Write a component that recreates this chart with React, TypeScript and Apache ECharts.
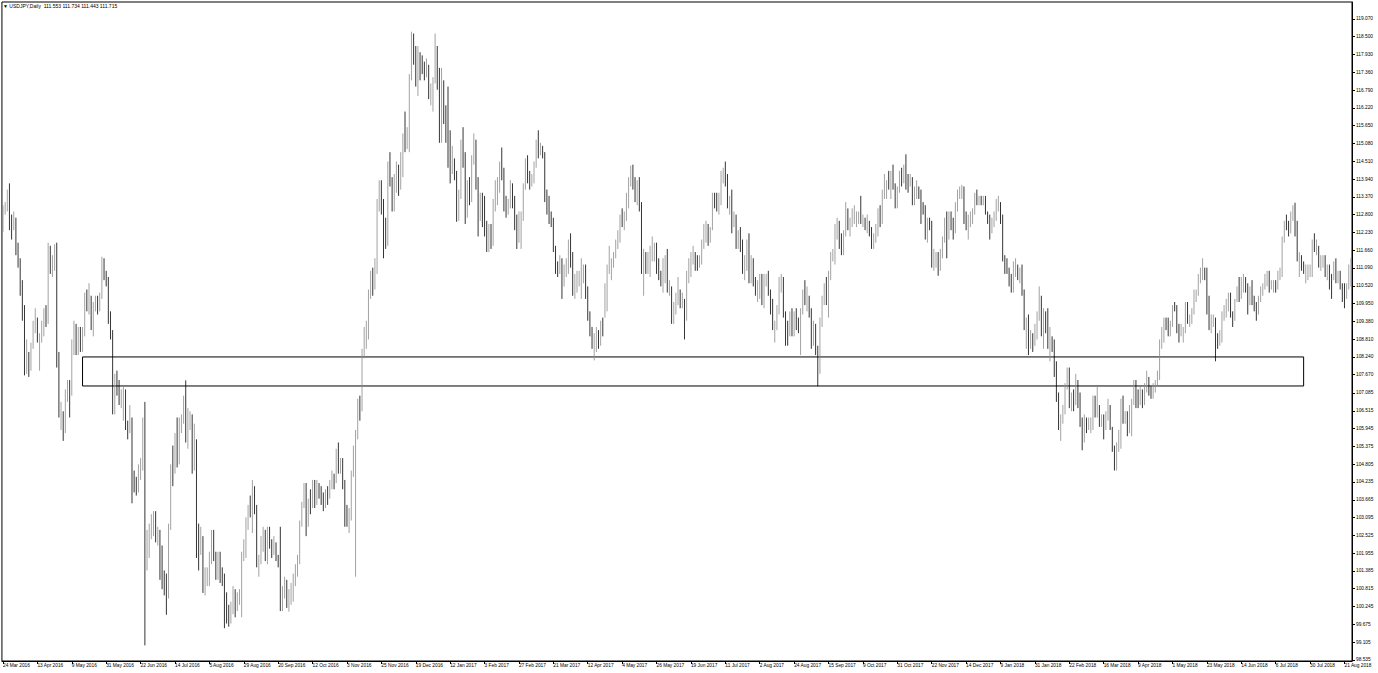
import React, { useEffect, useRef } from "react";
import * as echarts from "echarts";

// [open, close, low, high]
const bars2016: number[][] = [
  [112.40,112.99,112.25,113.10],[112.99,113.02,112.80,113.20],[113.02,113.40,112.90,113.60],[113.40,112.42,112.30,113.80],
  [112.42,112.40,112.00,112.80],[112.40,112.60,112.30,112.90],[112.60,111.70,111.50,112.70],[111.70,111.30,111.10,111.90],
  [111.30,110.30,110.20,111.40],[110.30,109.80,109.40,110.70],[109.80,108.10,107.65,109.90],[108.10,108.10,107.70,108.80],
  [108.10,107.90,107.60,108.40],[107.90,108.60,107.80,108.70],[108.60,109.30,108.50,109.40],[109.30,109.40,109.00,109.80],
  [109.40,108.80,108.70,109.50],[108.60,108.90,107.80,109.00],[108.90,109.20,108.70,109.40],[109.20,109.50,108.90,109.80],
  [109.50,109.40,109.20,109.90],[109.40,111.70,109.30,111.90],[111.70,111.10,110.90,111.80],[111.10,111.40,110.80,111.50],
  [111.40,111.40,111.00,111.85],[111.40,108.10,107.90,111.90],[108.10,106.40,106.30,108.40],[106.40,106.40,105.90,106.80],
  [106.40,106.10,105.55,106.50],[106.10,107.10,105.80,107.20],[107.10,107.20,106.80,107.50],[107.20,107.10,106.30,107.50],
  [107.10,108.60,107.00,108.80],[108.60,109.20,108.30,109.40],[109.20,108.50,108.30,109.30],[108.50,109.00,108.30,109.20],
  [109.00,108.60,108.40,109.20],[108.60,109.10,108.40,109.20],[109.10,110.20,108.90,110.30],[110.20,109.90,109.70,110.40],
  [109.90,110.10,109.60,110.60],[110.10,109.20,109.10,110.20],[109.20,109.90,108.90,110.00],[109.90,110.10,109.70,110.20],
  [110.10,109.80,109.60,110.20],[109.80,110.20,109.70,110.30],[110.20,111.30,110.10,111.45],[111.30,110.90,110.70,111.40],
  [110.90,110.70,110.50,111.00],[110.70,109.50,109.30,110.80],[109.50,109.00,108.80,109.70],[109.00,106.50,106.40,109.10],
  [106.50,107.50,106.40,107.70],[107.50,107.40,107.00,107.80],[107.40,106.90,106.70,107.50],[106.90,107.00,106.60,107.20],
  [107.00,107.00,106.20,107.30],[107.00,106.10,105.90,107.20],[106.10,106.00,105.60,106.20],[106.00,106.00,105.80,106.70],
  [106.00,104.20,103.55,106.30],[104.20,104.10,103.90,104.60],[104.10,104.00,103.80,104.40],[104.00,104.70,103.90,104.80],
  [104.70,104.70,104.30,105.00],[104.70,106.10,104.60,106.30],[106.10,102.30,99.00,106.80],[102.30,102.30,101.40,102.70],
  [102.30,102.70,101.80,102.90],[102.70,102.80,102.40,103.20],[102.80,103.20,102.50,103.30],[103.20,102.50,102.30,103.30],
  [102.50,102.60,102.20,102.80],[102.60,102.00,101.10,102.70],[102.00,101.30,100.80,102.20],[101.30,100.80,100.60,101.40],
  [100.80,100.60,99.98,101.30],[100.60,102.80,100.50,102.90],[102.80,104.70,102.70,104.80],[104.70,104.60,104.10,105.40],
  [104.60,105.30,104.50,105.80],[105.30,104.90,104.70,106.30],[104.90,106.20,104.80,106.30],[106.20,106.20,105.80,106.40],
  [106.20,106.90,106.10,107.00],[106.90,105.80,105.50,107.49],[105.80,106.10,105.30,106.60],[106.10,106.20,105.90,106.50],
  [106.20,104.80,104.50,106.40],[104.80,105.40,104.60,106.10],[105.40,102.10,101.80,105.60],[102.10,102.00,101.40,102.90],
  [102.00,102.40,101.90,102.80],[102.40,100.70,100.68,102.50],[100.70,101.20,100.60,101.50],[101.20,101.20,100.90,101.50],
  [101.20,101.80,100.90,102.00],[101.80,102.50,101.60,102.70],[102.50,101.90,101.70,102.70],[101.90,101.20,101.10,102.00],
  [101.20,101.90,101.10,102.00],[101.90,101.30,101.00,102.00],[101.30,101.20,100.90,101.50],[101.20,100.30,99.55,101.30],
  [100.30,100.20,99.70,100.70],[100.20,99.90,99.60,100.30],[99.90,100.20,99.70,100.40],[100.20,100.70,100.00,100.90],
  [100.70,100.30,99.90,100.80],[100.30,100.50,100.10,100.70],[100.50,100.50,100.30,100.80],[100.50,101.80,99.90,102.00],
  [101.80,101.90,101.70,102.40],[101.90,103.00,101.80,103.10],[103.00,103.40,102.70,103.50],[103.40,103.30,103.10,103.80],
  [103.30,104.00,102.60,104.30],[104.00,103.40,103.20,104.10],[103.40,101.70,101.50,103.50],[101.70,101.80,101.20,101.90],
  [101.80,102.40,101.60,102.50],[102.40,102.60,102.00,102.80],[102.60,101.80,101.70,102.70],[101.80,102.70,101.60,102.80],
  [102.70,102.30,102.10,102.80],[102.30,102.00,101.80,102.40],[102.00,102.30,101.90,102.50],[102.30,101.80,101.70,102.30],
  [101.80,101.70,101.50,101.90],[101.70,100.30,100.10,102.80],[100.30,100.70,100.10,100.90],[100.70,101.00,100.50,101.20],
  [101.00,100.40,100.20,101.10],[100.40,100.50,100.08,100.80],[100.50,100.70,100.30,101.00],[100.70,101.00,100.40,101.30],
  [101.00,101.30,100.90,101.60],[101.30,101.70,101.20,101.90],[101.70,102.90,101.60,103.00],[102.90,103.50,102.80,103.60],
  [103.50,103.90,103.40,104.20],[103.90,102.90,102.50,104.20],[102.90,103.60,102.80,103.70],[103.60,103.50,103.20,104.00],
  [103.50,104.20,103.40,104.30],[104.20,103.60,103.40,104.30],[103.60,104.20,103.50,104.30],[104.20,104.00,103.70,104.20],
  [104.00,103.80,103.50,104.10],[103.80,103.40,103.30,103.90],[103.40,103.90,103.40,104.00],[103.90,103.80,103.50,104.10],
  [103.80,104.20,103.70,104.30],[104.20,104.30,104.00,104.60],[104.30,104.20,104.00,104.50],[104.20,105.20,104.20,105.30],
  [105.20,104.70,104.50,105.50],[104.70,104.80,104.50,105.00],[104.80,104.20,104.00,105.00],[104.20,103.30,102.80,104.30],
  [103.30,103.10,102.80,103.50],[103.10,103.10,102.60,103.40],[103.10,104.50,103.00,104.60],[104.50,105.10,104.40,105.40],
  [105.10,105.70,101.20,105.90],[105.70,106.80,105.60,106.90],[106.80,106.60,106.20,107.00],[106.60,108.40,106.50,108.50],
  [108.40,109.10,108.20,109.20],[109.10,109.20,108.50,109.40],[109.20,110.30,108.80,110.40],[110.30,110.90,110.10,111.00],
  [110.90,110.80,110.20,111.10],[110.80,111.10,110.40,111.40],[111.10,113.20,110.90,113.30],[113.20,113.30,112.90,113.90],
  [113.30,113.20,112.80,113.90],[113.20,112.30,111.40,113.30],[112.30,111.90,111.70,112.70],[111.90,114.40,111.80,114.50],
  [114.40,114.00,113.70,114.80],[114.00,113.50,112.90,114.00],[113.50,113.90,112.90,114.10],[113.90,114.00,113.50,114.50],
  [114.00,113.70,113.40,114.40],[113.70,114.10,113.60,114.80],[114.10,115.30,114.00,115.40],[115.30,115.10,114.80,116.10],
  [115.10,115.40,114.90,115.60],[115.40,117.20,114.80,117.30],[117.20,118.10,117.10,118.66],[118.10,117.90,117.60,118.60],
  [117.90,117.00,116.90,118.20],[117.00,117.90,116.60,118.20],[117.90,117.60,117.10,118.00],[117.60,117.50,117.30,117.90],
  [117.50,117.30,117.10,117.70],[117.30,117.50,117.20,117.80],[117.50,116.60,116.50,117.60],[116.60,116.60,116.30,117.00],
  [116.60,116.90,116.10,117.20],
];

const bars2017: number[][] = [
  [117.20,117.80,117.00,118.60],[117.80,117.20,116.80,118.20],[117.20,115.40,115.10,117.50],[115.40,117.00,115.10,117.50],
  [117.00,115.90,115.70,117.10],[115.90,115.80,115.10,116.30],[115.80,115.40,114.30,116.90],[115.40,114.40,113.80,115.50],
  [114.40,114.50,114.10,115.00],[114.50,114.10,113.90,114.60],[114.10,112.70,112.57,114.20],[112.70,113.40,112.60,113.60],
  [113.40,115.10,113.30,115.20],[115.10,114.60,114.30,115.60],[114.60,112.80,112.50,114.80],[112.80,113.80,112.70,113.90],
  [113.80,113.30,113.10,114.00],[113.30,114.50,113.20,114.70],[114.50,115.10,114.40,115.40],[115.10,113.80,113.60,115.20],
  [113.80,112.80,112.10,114.00],[112.80,113.20,112.60,113.50],[113.20,112.80,112.40,113.50],[112.80,112.60,112.10,113.40],
  [112.60,111.80,111.60,112.60],[111.80,112.30,111.60,112.50],[112.30,111.90,111.70,112.50],[111.90,113.20,111.80,113.30],
  [113.20,113.20,112.90,113.90],[113.20,113.70,113.10,114.00],[113.70,114.30,113.50,114.50],[114.30,114.20,113.90,114.95],
  [114.20,113.20,112.90,114.30],[113.20,112.90,112.70,113.40],[112.90,113.10,112.80,113.30],[113.10,113.70,113.00,113.90],
  [113.70,113.30,113.00,113.80],[113.30,112.60,112.30,113.40],[112.60,112.10,111.70,112.80],[112.10,112.70,111.90,112.90],
  [112.70,112.70,111.70,112.90],[112.70,113.70,112.60,113.80],[113.70,114.40,113.60,114.60],[114.40,114.00,113.80,114.70],
  [114.00,113.90,113.60,114.20],[113.90,113.90,113.70,114.10],[113.90,114.40,113.80,114.50],[114.40,115.00,114.30,115.20],
  [115.00,114.80,114.60,115.50],[114.80,114.80,114.70,115.10],[114.80,114.70,114.60,115.00],[114.70,113.40,113.20,114.80],
  [113.40,113.30,112.80,113.60],[113.30,112.70,112.50,113.40],[112.70,112.50,112.40,112.90],[112.50,111.70,111.60,112.70],
  [111.70,111.20,110.90,111.80],[111.20,111.00,110.80,111.30],[111.00,111.30,110.90,111.50],[111.30,110.60,110.10,111.40],
  [110.60,111.00,110.50,111.20],[111.00,111.10,110.80,111.40],[111.10,111.80,110.90,112.00],[111.80,111.40,111.10,112.20],
  [111.40,110.30,110.20,111.60],[110.30,110.70,110.10,110.90],[110.70,110.70,110.30,111.00],[110.70,110.80,110.50,111.00],
  [110.80,110.80,110.10,111.40],[110.80,111.10,110.60,111.20],[111.10,110.40,110.10,111.20],[110.40,109.60,109.40,110.50],
  [109.60,109.10,108.90,109.70],[109.10,108.60,108.50,109.20],[108.60,108.90,108.13,109.00],[108.90,108.90,108.40,109.20],
  [108.90,108.80,108.50,109.10],[108.80,109.30,108.60,109.40],[109.30,109.10,108.90,109.50],[109.60,109.80,109.50,110.60],
  [109.80,111.10,109.70,111.20],[111.10,111.10,110.90,111.80],[111.10,111.30,110.70,111.40],[111.30,111.50,111.10,111.60],
  [111.50,111.90,111.40,112.00],[111.90,112.20,111.70,112.30],[112.20,112.80,111.90,112.80],[112.80,112.50,112.40,113.00],
  [112.50,112.70,112.30,112.90],[112.70,113.20,112.60,113.50],[113.20,113.90,113.00,114.00],[113.90,114.30,113.70,114.37],
  [114.30,113.90,113.60,114.40],[113.90,113.30,113.20,114.00],[113.30,113.80,113.10,113.90],[113.80,113.10,112.90,114.00],
  [113.10,111.10,110.90,113.20],[111.10,111.50,110.20,111.70],[111.50,111.30,110.90,111.60],[111.30,111.30,110.90,111.60],
  [111.30,111.60,110.80,111.80],[111.60,111.60,111.30,112.10],[111.60,111.80,111.30,111.90],[111.80,111.30,110.90,111.90],
  [111.30,110.90,110.70,111.40],[110.90,110.80,110.50,111.00],[110.80,110.80,110.30,111.40],[110.80,111.40,110.60,111.50],
  [111.40,110.40,110.30,111.70],[110.40,110.40,110.20,110.70],[110.40,109.50,109.30,110.50],[109.50,109.80,109.30,110.00],
  [109.80,110.00,109.60,110.30],[110.00,110.30,109.90,110.80],[110.30,110.00,109.80,110.40],[110.00,110.00,109.80,110.30],
  [110.00,109.60,108.80,110.10],[109.60,110.90,109.40,111.00],[110.90,110.90,110.60,111.40],[110.90,111.50,110.80,111.60],
  [111.50,111.50,111.20,111.80],[111.50,111.40,111.00,111.60],[111.40,111.30,111.00,111.50],[111.30,111.30,111.10,111.50],
  [111.30,111.90,111.20,112.00],[111.90,112.30,111.70,112.50],[112.30,112.30,111.90,112.60],[112.30,112.00,111.80,112.50],
  [112.00,112.40,111.90,112.40],[112.40,113.40,112.30,113.50],[113.40,113.30,113.00,113.50],[113.30,113.20,112.90,113.50],
  [113.20,113.20,112.80,113.50],[113.20,113.90,113.10,114.20],[113.90,114.00,113.80,114.30],[114.00,113.90,113.70,114.50],
  [113.90,113.20,113.00,114.10],[113.20,113.30,112.80,113.40],[113.30,112.50,112.20,113.60],[112.50,112.60,112.40,112.90],
  [112.60,112.00,111.70,112.80],[112.00,112.00,111.70,112.30],[112.00,111.90,111.60,112.40],[111.90,111.10,110.90,112.00],
  [111.10,111.10,110.70,111.50],[111.10,111.90,111.00,112.00],[111.90,110.90,110.60,112.20],[110.90,111.30,110.60,111.50],
  [111.30,110.70,110.50,111.40],[110.70,110.30,110.20,110.80],[110.30,110.30,110.00,110.70],[110.30,110.70,110.10,110.90],
  [110.70,110.00,109.90,110.90],[110.00,110.70,109.80,110.90],[110.70,110.70,110.50,110.90],[110.70,110.30,110.20,111.00],
  [110.30,110.00,109.60,110.40],[110.00,109.20,109.10,110.10],[109.20,109.20,108.70,109.40],[109.20,109.70,109.10,109.90],
  [109.70,110.70,109.60,110.80],[110.70,110.70,110.30,110.90],[110.70,109.60,109.50,110.80],[109.60,109.20,108.60,109.70],
  [109.20,109.00,108.60,109.40],[109.00,109.60,108.90,109.70],[109.60,109.00,108.90,109.80],[109.00,109.50,108.90,109.70],
  [109.50,109.30,109.10,109.80],[109.30,109.20,109.00,109.50],[109.20,109.70,108.30,109.80],[109.70,110.30,109.60,110.40],
  [110.30,110.00,109.90,110.70],[110.00,110.20,109.70,110.50],[110.20,109.70,109.50,110.20],[109.70,108.70,108.50,109.80],
  [108.70,109.20,108.60,109.40],[109.20,108.40,108.30,109.30],[108.40,107.80,107.30,108.60],[107.80,109.40,107.70,109.50],
  [109.40,110.10,109.20,110.20],[110.10,110.50,109.90,110.60],[110.50,110.20,109.90,110.80],[110.20,110.80,109.50,111.00],
  [110.80,111.50,110.70,111.60],[111.50,111.60,111.30,111.70],[111.60,112.30,111.20,112.50],[112.30,112.50,112.00,112.70],
  [112.50,112.00,111.70,112.60],[112.00,111.70,111.50,112.20],[111.70,112.20,111.50,112.30],[112.20,112.80,112.10,113.20],
  [112.80,112.30,112.30,113.00],[112.30,112.50,112.10,112.70],[112.50,112.70,112.40,113.00],[112.70,112.70,112.50,113.10],
  [112.70,112.80,112.40,112.90],[112.80,112.80,112.50,112.90],[112.80,112.60,112.50,113.40],[112.60,112.70,112.40,112.80],
  [112.70,112.50,112.30,112.70],[112.50,112.50,112.20,112.80],[112.50,112.30,112.10,112.60],[112.30,111.80,111.70,112.40],
  [111.80,112.20,111.70,112.20],[112.20,112.20,111.90,112.50],[112.20,112.90,112.10,113.00],[112.90,112.60,112.40,113.10],
  [112.60,113.50,112.50,113.60],[113.50,113.50,113.30,114.10],[113.50,113.90,113.30,113.90],[113.90,113.70,113.60,114.20],
  [113.70,114.10,113.30,114.20],[114.10,113.70,113.60,114.40],[113.70,113.20,113.00,113.80],[113.20,113.60,113.00,113.70],
  [113.60,114.10,113.50,114.20],[114.10,114.00,113.70,114.30],[114.00,114.10,113.80,114.40],[114.10,114.00,113.60,114.73],
  [114.00,113.90,113.50,114.10],[113.90,113.90,113.70,114.10],[113.90,113.50,113.10,114.00],[113.50,113.50,113.10,113.70],
  [113.50,113.60,113.30,113.90],[113.60,113.50,113.30,113.70],[113.50,113.10,112.50,113.60],[113.10,113.00,112.80,113.20],
  [113.00,112.10,112.00,113.10],[112.10,112.60,111.90,112.70],[112.60,112.50,112.30,112.70],[112.50,111.20,111.10,112.60],
  [111.20,111.20,111.00,111.70],[111.20,111.50,111.10,111.60],[111.50,111.10,110.84,111.60],[111.10,111.50,111.00,111.70],
  [111.50,112.00,111.40,112.10],[112.00,112.50,111.90,112.70],[112.50,112.10,111.40,112.90],[112.10,112.80,112.00,112.90],
  [112.80,112.60,112.30,112.90],[112.60,112.30,112.00,112.70],[112.30,113.00,112.20,113.20],[113.00,113.50,112.90,113.60],
  [113.50,113.60,113.30,113.70],[113.60,113.60,113.30,113.75],[113.60,112.60,112.50,113.70],[112.60,112.40,112.30,112.90],
  [112.40,112.60,112.00,112.80],[112.60,112.60,112.40,112.90],[112.60,112.90,112.50,113.00],[112.90,113.40,112.80,113.50],
  [113.40,113.30,113.10,113.60],[113.30,113.30,113.10,113.40],[113.30,113.20,113.10,113.40],[113.20,113.30,113.10,113.40],
  [113.30,112.90,112.80,113.40],[112.90,112.70,112.50,112.90],
];

const bars2018: number[][] = [
  [112.70,112.30,112.00,112.80],[112.30,112.50,112.20,112.70],[112.50,112.70,112.40,112.90],[112.70,113.00,112.60,113.30],
  [113.00,113.10,112.90,113.40],[113.10,112.60,112.50,113.20],[112.60,111.40,111.30,112.80],[111.40,111.20,110.90,111.50],
  [111.20,111.00,110.90,111.40],[111.00,110.60,110.50,111.10],[110.60,110.40,110.30,110.90],[110.40,111.00,110.30,111.30],
  [111.00,111.10,110.80,111.40],[111.10,110.80,110.70,111.20],[110.80,111.00,110.60,111.10],[111.00,110.30,110.20,111.20],
  [110.30,109.20,109.10,110.40],[109.20,109.40,108.50,109.50],[109.40,108.60,108.30,109.60],[108.60,108.90,108.50,109.10],
  [108.90,108.80,108.40,109.00],[108.80,109.20,108.60,109.30],[109.20,109.50,108.80,109.70],[109.50,110.20,109.40,110.50],
  [110.20,109.10,108.90,110.20],[109.10,109.50,108.50,109.80],[109.50,109.30,109.00,109.70],[109.30,108.80,108.50,109.80],
  [108.80,108.80,108.10,109.20],[108.80,108.70,108.40,108.90],[108.70,107.80,107.60,108.80],[107.80,107.00,106.80,108.10],
  [107.00,106.10,105.90,107.10],[106.10,106.30,105.55,106.40],[106.30,106.60,106.10,106.70],[106.60,107.30,106.40,107.40],
  [107.30,107.80,107.20,107.90],[107.80,106.70,106.60,107.90],[106.70,106.90,106.50,107.10],[106.90,106.80,106.50,107.20],
  [106.80,107.40,106.70,107.70],[107.40,106.70,106.60,107.50],[106.70,106.20,106.00,107.10],[106.20,105.70,105.25,106.30],
  [105.70,106.20,105.50,106.40],[106.20,106.10,105.80,106.30],[106.10,106.10,105.90,106.30],[106.10,106.20,105.80,106.30],
  [106.20,106.80,105.90,107.00],[106.80,106.40,106.30,107.00],[106.40,106.60,106.30,107.30],[106.60,106.30,106.00,106.70],
  [106.30,106.30,106.00,106.40],[106.30,106.00,105.60,106.40],[106.00,106.40,105.90,106.50],[106.40,106.60,106.20,106.90],
  [106.60,106.00,105.90,106.70],[106.00,105.30,105.20,106.00],[105.30,104.70,104.60,105.40],[104.70,105.40,104.60,105.50],
  [105.40,105.40,105.20,105.90],[105.40,106.80,105.30,106.90],[106.80,106.30,106.10,107.00],[106.30,106.30,106.10,106.50],
  [106.30,105.90,105.70,106.50],[105.90,106.60,105.80,106.70],[106.60,106.80,105.70,106.90],[106.80,107.40,106.70,107.50],
  [107.40,106.90,106.60,107.50],[106.90,106.80,106.60,107.20],[106.80,107.20,106.70,107.30],[107.20,106.80,106.60,107.20],
  [106.80,107.30,106.70,107.40],[107.30,107.40,107.10,107.80],[107.40,107.10,107.00,107.60],[107.10,107.00,106.90,107.30],
  [107.00,107.20,106.90,107.40],[107.20,107.40,107.10,107.50],[107.40,107.60,107.30,107.80],[107.60,108.70,107.50,108.80],
  [108.70,108.80,108.50,109.20],[108.80,109.40,108.70,109.50],[109.40,109.30,109.10,109.50],[109.30,109.00,108.90,109.50],
  [109.00,109.30,108.90,109.40],[109.30,109.90,109.20,109.90],[109.90,109.80,109.70,110.00],[109.80,109.20,109.00,109.90],
  [109.20,109.10,108.70,109.30],[109.10,109.10,108.90,109.30],[109.10,109.10,108.70,109.20],[109.10,109.70,109.00,110.00],
  [109.70,109.40,109.30,110.00],[109.40,109.40,109.20,109.60],[109.40,109.70,109.30,109.80],[109.70,110.30,109.60,110.40],
  [110.30,110.30,110.00,110.40],[110.30,110.80,110.20,110.90],[110.80,110.80,110.60,111.10],[110.80,111.00,110.70,111.40],
  [111.00,110.90,110.70,111.10],[110.90,110.10,109.60,111.10],[110.10,109.20,109.10,110.20],[109.20,109.40,109.00,109.60],
  [109.40,109.40,109.20,109.60],[109.40,108.80,108.10,109.50],[108.80,108.70,108.50,109.00],[108.70,108.80,108.60,109.10],
  [108.80,109.50,108.70,109.70],[109.50,109.80,109.40,109.90],[109.80,109.80,109.50,110.10],[109.80,110.20,109.70,110.30],
  [110.20,109.70,109.50,110.30],[109.70,109.50,109.20,109.70],[109.50,110.00,109.40,110.10],[110.00,110.40,110.00,110.50],
  [110.40,110.30,110.00,110.80],[110.30,110.60,110.10,110.80],[110.60,110.70,110.30,110.90],[110.70,110.50,110.30,110.80],
  [110.50,110.00,109.60,110.60],[110.00,110.30,109.90,110.50],[110.30,110.00,109.90,110.70],[110.00,109.90,109.70,110.20],
  [109.90,109.70,109.40,110.00],[109.70,110.10,109.60,110.20],[110.10,110.30,110.00,110.50],[110.30,110.50,110.20,110.60],
  [110.50,110.80,110.40,110.90],[110.80,110.90,110.50,111.00],[110.90,110.50,110.30,111.00],[110.50,110.50,110.40,110.70],
  [110.50,110.60,110.30,110.70],[110.60,110.50,110.30,110.70],[110.50,110.90,110.40,111.00],[110.90,111.00,110.70,111.10],
  [111.00,112.00,110.80,112.10],[112.00,112.50,111.90,112.60],[112.50,112.40,112.30,112.80],[112.40,112.30,112.10,112.60],
  [112.30,112.90,112.20,112.90],[112.90,112.90,112.60,113.10],[112.90,112.50,112.10,113.18],[112.50,111.40,111.30,112.60],
  [111.40,111.40,110.80,111.60],[111.40,111.20,111.00,111.50],[111.20,111.00,110.90,111.30],[111.00,111.00,110.60,111.20],
  [111.00,111.00,110.70,111.20],[111.00,111.10,110.80,111.20],[111.10,111.90,110.80,112.00],[111.90,111.70,111.60,112.20],
  [111.70,111.70,111.50,112.00],[111.70,111.20,111.10,111.80],[111.20,111.40,111.00,111.50],[111.40,111.40,111.10,111.50],
  [111.40,111.00,110.80,111.50],[111.00,111.10,110.70,111.20],[111.10,110.80,110.40,111.20],[110.80,110.70,110.10,110.90],
  [110.70,111.20,110.70,111.30],[111.20,110.70,110.60,111.40],[110.70,110.90,110.60,111.00],[110.90,110.50,110.40,111.00],
  [110.50,110.20,110.00,110.60],[110.20,110.10,109.80,110.60],[110.10,110.50,110.10,110.60],[110.50,110.60,110.40,111.20],
  [110.60,111.30,110.50,111.40],
];

const dateLabels: string[] = [
  "24 Mar 2016","13 Apr 2016","9 May 2016","31 May 2016","22 Jun 2016","14 Jul 2016","5 Aug 2016","29 Aug 2016",
  "20 Sep 2016","12 Oct 2016","3 Nov 2016","25 Nov 2016","19 Dec 2016","12 Jan 2017","3 Feb 2017","27 Feb 2017",
  "21 Mar 2017","12 Apr 2017","4 May 2017","26 May 2017","19 Jun 2017","11 Jul 2017","2 Aug 2017","24 Aug 2017",
  "15 Sep 2017","9 Oct 2017","31 Oct 2017","22 Nov 2017","14 Dec 2017","9 Jan 2018","31 Jan 2018","22 Feb 2018",
  "16 Mar 2018","9 Apr 2018","1 May 2018","23 May 2018","14 Jun 2018","6 Jul 2018","30 Jul 2018","21 Aug 2018",
];

const priceTicks: number[] = [
  119.07,118.5,117.93,117.36,116.79,116.22,115.65,115.08,114.51,113.94,113.37,112.8,112.23,111.66,111.09,
  110.52,109.95,109.38,108.81,108.24,107.67,107.085,106.515,105.945,105.375,104.805,104.235,103.665,103.095,
  102.525,101.955,101.385,100.815,100.245,99.675,99.105,98.535,
];

const zoneTop = 108.24;
const zoneBottom = 107.31;
const zoneStart = 37;
const zoneEnd = 605;
const labelEvery = 16;
const titleText = "\u25BC USDJPY,Daily  111.553 111.734 111.443 111.715";

const FONT = "Liberation Sans, Arial, sans-serif";

export default function App() {
  const ref = useRef<HTMLDivElement>(null);
  useEffect(() => {
    if (!ref.current) return;
    const chart = echarts.init(ref.current, null, { renderer: "svg" });
    const data = [...bars2016, ...bars2017, ...bars2018];
    const cats = data.map((_, i) => String(i));
    const showIdx = (i: number) => i % labelEvery === 0;
    chart.setOption({
      animation: false,
      backgroundColor: "#ffffff",
      title: {
        text: titleText,
        left: 3,
        top: 3,
        padding: 0,
        textStyle: { fontSize: 5, fontWeight: "normal", color: "#000", fontFamily: FONT },
      },
      grid: {
        left: 1, right: 26, top: 2, bottom: 12,
        show: true, borderColor: "#000", borderWidth: 1, backgroundColor: "transparent",
      },
      xAxis: {
        type: "category",
        data: cats,
        boundaryGap: true,
        axisLine: { show: true, lineStyle: { color: "#000", width: 1 } },
        axisTick: { show: true, alignWithLabel: true, interval: (i: number) => showIdx(i), length: 3, lineStyle: { color: "#000" } },
        axisLabel: {
          interval: (i: number) => showIdx(i),
          formatter: (v: string) => {
            const n = Number(v);
            return n % labelEvery === 0 ? dateLabels[n / labelEvery] ?? "" : "";
          },
          align: "left",
          fontSize: 4.8,
          color: "#000",
          margin: 2,
          fontFamily: FONT,
        },
        splitLine: { show: false },
      },
      yAxis: {
        type: "value",
        position: "right",
        min: 98.5,
        max: 119.61,
        axisLine: { show: true, lineStyle: { color: "#000", width: 1 } },
        axisTick: { show: true, length: 3, customValues: priceTicks, lineStyle: { color: "#000" } },
        axisLabel: {
          customValues: priceTicks,
          formatter: (v: number) => v.toFixed(3),
          fontSize: 4.8,
          color: "#000",
          margin: 4,
          fontFamily: FONT,
        },
        splitLine: { show: false },
      },
      series: [
        {
          type: "candlestick",
          data,
          barWidth: 1.9,
          itemStyle: {
            color: "#ffffff",
            color0: "#000000",
            borderColor: "#8a8a8a",
            borderColor0: "#000000",
            borderWidth: 0.8,
          },
          markArea: {
            silent: true,
            label: { show: false },
            itemStyle: { color: "rgba(0,0,0,0)", borderColor: "#000", borderWidth: 1 },
            data: [[{ xAxis: zoneStart, yAxis: zoneTop }, { xAxis: zoneEnd, yAxis: zoneBottom }]],
          },
        },
      ],
    });
    return () => chart.dispose();
  }, []);
  return (
    <div
      ref={ref}
      style={{ position: "fixed", left: 0, top: 0, width: 1378, height: 673, background: "#fff" }}
    />
  );
}
